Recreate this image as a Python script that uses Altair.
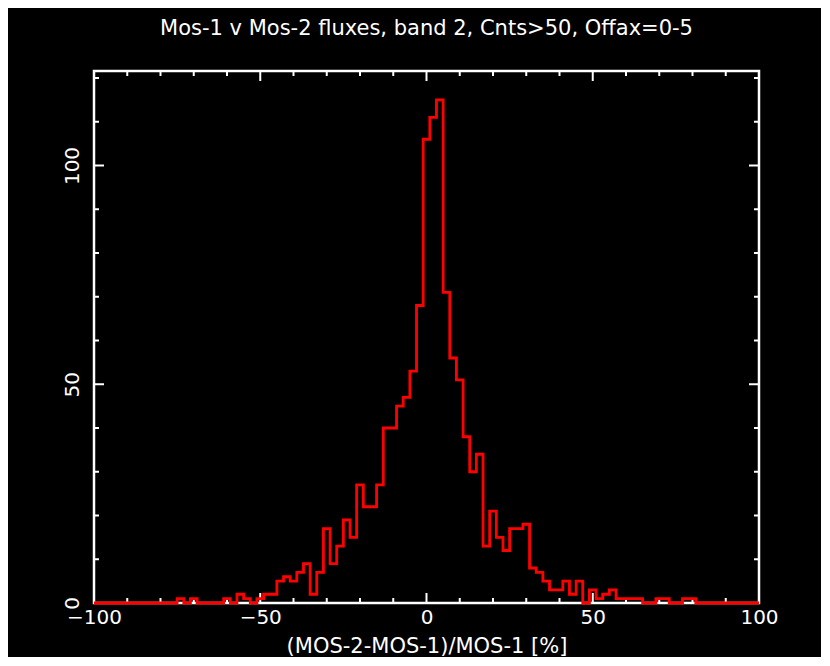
import altair as alt
import pandas as pd

# ---- data ----
bin_centers = list(range(-98, 100, 2))  # bin width 2 (edges at odd numbers)
counts = [
    0, 0, 0, 0, 0, 0, 0, 0, 0, 0, 0, 0,          # -98 .. -76
    1, 0, 1, 0, 0, 0, 0, 1, 0, 2, 1, 0, 1,       # -74 .. -50
    2, 2, 5, 6, 5, 7, 9, 2, 7, 17, 9, 13, 19,    # -48 .. -24
    15, 27, 22, 22, 27, 40, 40, 45, 47, 53, 68,  # -22 .. -2
    106, 111, 115, 71, 56, 51, 38, 30, 34, 13,   # 0 .. 18
    21, 15, 12, 17, 17, 18, 8, 7, 5, 3, 3, 5,    # 20 .. 42
    2, 5, 0, 3, 1, 2, 3, 1, 1, 1, 1, 0, 0,       # 44 .. 68
    1, 1, 0, 0, 1, 1,                            # 70 .. 80
    0, 0, 0, 0, 0, 0, 0, 0, 0,                   # 82 .. 98
]
assert len(bin_centers) == len(counts)
bin_half = 1

x_label_values = [-100, -50, 0, 50, 100]
y_label_values = [0, 50, 100]
x_major_ticks = [-50, 0, 50]
x_minor_ticks = [-90, -80, -70, -60, -40, -30, -20, -10, 10, 20, 30, 40, 60, 70, 80, 90]
y_major_ticks = [50, 100]
y_minor_ticks = [10, 20, 30, 40, 60, 70, 80, 90, 110, 120]

x_domain = [-100, 100]
y_domain = [0, 121.6]

title_text = "Mos-1 v Mos-2 fluxes, band 2, Cnts>50, Offax=0-5"
x_title = "(MOS-2-MOS-1)/MOS-1 [%]"

# ---- build step-line table ----
rows = [{"i": 0, "x": x_domain[0], "y": 0}]
k = 1
for c, v in zip(bin_centers, counts):
    rows.append({"i": k, "x": c - bin_half, "y": v}); k += 1
    rows.append({"i": k, "x": c + bin_half, "y": v}); k += 1
rows.append({"i": k, "x": x_domain[1], "y": 0})
step_df = pd.DataFrame(rows)

W, H = 665, 532
FONT = "DejaVu Sans"
xscale = alt.Scale(domain=x_domain, nice=False, zero=False)
yscale = alt.Scale(domain=y_domain, nice=False, zero=False)

x_axis = alt.Axis(
    values=x_label_values, ticks=False, domain=False, grid=False,
    labelColor="white", labelFont=FONT, labelFontSize=20, labelPadding=4,
    labelFlush=False, labelOverlap=False,
    labelExpr="replace(datum.label, '-', '\u2212')",
    title=x_title, titleColor="white", titleFont=FONT, titleFontSize=21,
    titleFontWeight="normal", titlePadding=8)
y_axis = alt.Axis(
    values=y_label_values, ticks=False, domain=False, grid=False,
    labelColor="white", labelFont=FONT, labelFontSize=20, labelAngle=270,
    labelAlign="center", labelBaseline="alphabetic", labelPadding=16,
    title=None)

hist = alt.Chart(step_df).mark_line(color="#ff0000", strokeWidth=2.8, interpolate="linear").encode(
    x=alt.X("x:Q", scale=xscale, axis=x_axis),
    y=alt.Y("y:Q", scale=yscale, axis=y_axis),
    order="i:O",
)


def xticks(vals, length, top):
    df = pd.DataFrame({"v": vals})
    if top:
        y0, y1 = 0, length
    else:
        y0, y1 = H, H - length
    return alt.Chart(df).mark_rule(color="white", strokeWidth=2).encode(
        x=alt.X("v:Q", scale=xscale, axis=x_axis),
        y=alt.value(y0), y2=alt.value(y1))


def yticks(vals, length, right):
    df = pd.DataFrame({"v": vals})
    if right:
        x0, x1 = W, W - length
    else:
        x0, x1 = 0, length
    return alt.Chart(df).mark_rule(color="white", strokeWidth=2).encode(
        y=alt.Y("v:Q", scale=yscale, axis=y_axis),
        x=alt.value(x0), x2=alt.value(x1))


tick_layers = [
    xticks(x_major_ticks, 10, False), xticks(x_minor_ticks, 5, False),
    xticks(x_major_ticks, 10, True), xticks(x_minor_ticks, 5, True),
    yticks(y_major_ticks, 10, False), yticks(y_minor_ticks, 5, False),
    yticks(y_major_ticks, 10, True), yticks(y_minor_ticks, 5, True),
]

chart = alt.layer(*tick_layers, hist).properties(
    width=W, height=H,
    title=alt.TitleParams(title_text, color="white", font=FONT, fontSize=21,
                          fontWeight="normal", anchor="middle", offset=31),
    autosize=alt.AutoSizeParams(type="none"),
    padding={"left": 86, "top": 63, "right": 62, "bottom": 54},
).configure(background="black").configure_view(stroke="white", strokeWidth=2.5)

chart.save("out.html", embed_options={"renderer": "svg", "actions": False})
